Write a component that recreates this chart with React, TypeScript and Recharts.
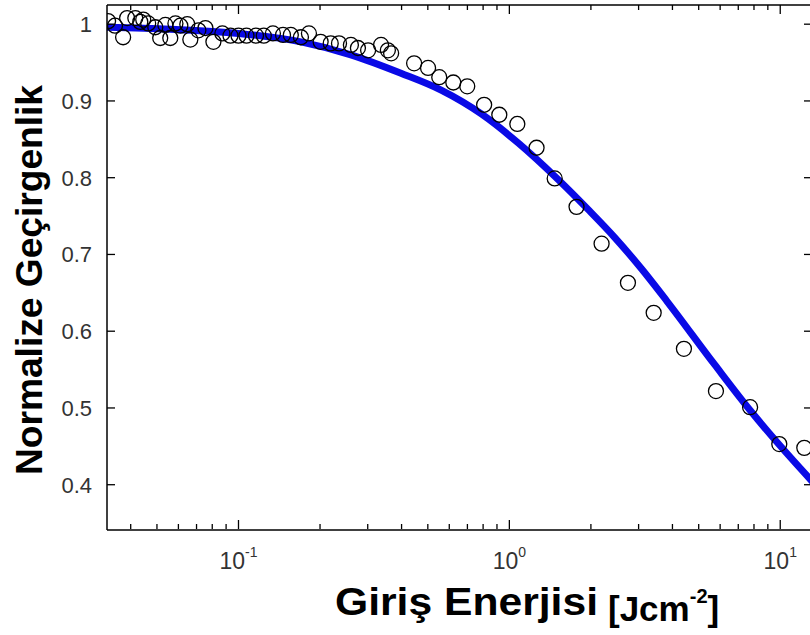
import { ComposedChart, Line, Scatter, XAxis, YAxis } from "recharts"

// measured points (input energy, normalized transmittance)
const energy = [
  0.033, 0.035, 0.0375, 0.0388, 0.0416, 0.0434, 0.0445, 0.0464, 0.0493, 0.0514, 0.0537, 0.056, 0.0585, 0.061,
  0.0647, 0.0664, 0.0711, 0.0755, 0.0808, 0.0872, 0.0934, 0.1, 0.107, 0.116, 0.124, 0.134, 0.146, 0.156, 0.17,
  0.182, 0.201, 0.219, 0.235, 0.26, 0.276, 0.301, 0.336, 0.356, 0.366, 0.445, 0.501, 0.551, 0.621, 0.699, 0.807,
  0.918, 1.07, 1.26, 1.47, 1.77, 2.19, 2.74, 3.41, 4.41, 5.79, 7.74, 9.92, 12.27,
]
const transmission = [
  1.004, 0.998, 0.983, 1.008, 1.008, 1.003, 1.006, 1.001, 0.996, 0.982, 0.999, 0.982, 1.001, 0.998,
  1.0, 0.98, 0.992, 0.995, 0.977, 0.988, 0.985, 0.985, 0.985, 0.985, 0.985, 0.988, 0.986, 0.986, 0.983,
  0.988, 0.977, 0.975, 0.975, 0.973, 0.969, 0.966, 0.973, 0.966, 0.962, 0.949, 0.943, 0.931, 0.924, 0.919, 0.895,
  0.882, 0.87, 0.839, 0.799, 0.762, 0.714, 0.663, 0.624, 0.577, 0.522, 0.501, 0.453, 0.448,
]

// fitted curve
const fitEnergy = [0.0327, 0.056, 0.1, 0.17, 0.26, 0.398, 0.56, 0.788, 1.08, 1.52, 1.96, 2.45, 3.08, 3.82, 5.74, 7.74, 9.92, 13.14]
const fitTransmission = [0.996, 0.9935, 0.988, 0.977, 0.96, 0.936, 0.914, 0.883, 0.845, 0.797, 0.758, 0.722, 0.681, 0.639, 0.556, 0.497, 0.452, 0.404]

const majorTicks = [0.1, 1, 10]
const xTicks = [0.04, 0.05, 0.06, 0.07, 0.08, 0.09, 0.1, 0.2, 0.3, 0.4, 0.5, 0.6, 0.7, 0.8, 0.9, 1, 2, 3, 4, 5, 6, 7, 8, 9, 10]
const yTicks = [0.4, 0.5, 0.6, 0.7, 0.8, 0.9, 1]

const points = energy.map((x, i) => ({ x, y: transmission[i] }))
const fit = fitEnergy.map((x, i) => ({ x, y: fitTransmission[i] }))

const FONT = "'Liberation Sans', Arial, sans-serif"
const isMajor = (v: number) => majorTicks.some((m) => Math.abs(m - v) < 1e-9)

const BottomTick = ({ x, y, payload }: any) => {
  const major = isMajor(payload.value)
  return (
    <g>
      <line x1={x} x2={x} y1={y - 1} y2={y - 1 - (major ? 9 : 5)} stroke="#000" strokeWidth={1.3} />
      {major && (
        <text x={x} y={y + 39} textAnchor="middle" fontFamily={FONT} fontSize={23} fill="#333">
          10
          <tspan dy={-12} fontSize={14}>
            {Math.round(Math.log10(payload.value))}
          </tspan>
        </text>
      )}
    </g>
  )
}

const TopTick = ({ x, payload }: any) => {
  const major = isMajor(payload.value)
  return <line x1={x} x2={x} y1={5} y2={5 + (major ? 9 : 5)} stroke="#000" strokeWidth={1.3} />
}

const LeftTick = ({ y, payload }: any) => (
  <g>
    <line x1={107} x2={115} y1={y} y2={y} stroke="#000" strokeWidth={1.3} />
    <text x={92} y={y} dy={8} textAnchor="end" fontFamily={FONT} fontSize={22} fill="#333">
      {payload.value}
    </text>
  </g>
)

const RightTick = ({ y }: any) => <line x1={812} x2={804} y1={y} y2={y} stroke="#000" strokeWidth={1.3} />

const XLabel = () => (
  <g fontFamily={FONT} fontWeight="bold" fill="#000">
    <text x={335} y={615} fontSize={38} textLength={263} lengthAdjust="spacingAndGlyphs">
      Giriş Enerjisi
    </text>
    <text x={608} y={621} fontSize={35}>
      [Jcm
      <tspan dy={-18} fontSize={20}>
        -2
      </tspan>
      <tspan dy={18} fontSize={35}>
        ]
      </tspan>
    </text>
  </g>
)

const YLabel = () => (
  <text
    x={42}
    y={475}
    transform="rotate(-90 42 475)"
    fontFamily={FONT}
    fontWeight="bold"
    fontSize={37}
    textLength={390}
    lengthAdjust="spacingAndGlyphs"
    fill="#000"
  >
    Normalize Geçirgenlik
  </text>
)

export default function App() {
  return (
    <div style={{ position: "absolute", left: 0, top: 0, background: "#fff" }}>
      <ComposedChart width={830} height={635} margin={{ top: 4, right: 17, bottom: 104, left: 106 }}>
        <XAxis
          dataKey="x"
          type="number"
          scale="log"
          domain={[0.0327, 13.1]}
          allowDataOverflow
          ticks={xTicks}
          interval={0}
          height={1}
          tickSize={0}
          tickMargin={0}
          axisLine={{ stroke: "#000", strokeWidth: 1.5 }}
          tickLine={false}
          tick={<BottomTick />}
          label={{ content: () => <XLabel /> }}
        />
        <XAxis
          xAxisId="top"
          orientation="top"
          dataKey="x"
          type="number"
          scale="log"
          domain={[0.0327, 13.1]}
          allowDataOverflow
          ticks={xTicks}
          interval={0}
          height={1}
          tickSize={0}
          tickMargin={0}
          axisLine={{ stroke: "#000", strokeWidth: 1.5 }}
          tickLine={false}
          tick={<TopTick />}
        />
        <YAxis
          type="number"
          domain={[0.341, 1.025]}
          allowDataOverflow
          ticks={yTicks}
          interval={0}
          width={1}
          tickSize={0}
          tickMargin={0}
          axisLine={{ stroke: "#000", strokeWidth: 1.5 }}
          tickLine={false}
          tick={<LeftTick />}
          label={{ content: () => <YLabel /> }}
        />
        <YAxis
          yAxisId="right"
          orientation="right"
          type="number"
          domain={[0.341, 1.025]}
          allowDataOverflow
          ticks={yTicks}
          interval={0}
          width={1}
          tickSize={0}
          tickMargin={0}
          axisLine={{ stroke: "#000", strokeWidth: 1.5 }}
          tickLine={false}
          tick={<RightTick />}
        />
        <Scatter
          data={points}
          dataKey="y"
          isAnimationActive={false}
          shape={(p: any) => <circle cx={p.cx} cy={p.cy} r={7.5} fill="none" stroke="#000" strokeWidth={1.3} />}
        />
        <Line
          data={fit}
          dataKey="y"
          type="monotone"
          stroke="#0a0ae6"
          strokeWidth={7}
          dot={false}
          activeDot={false}
          isAnimationActive={false}
        />
      </ComposedChart>
    </div>
  )
}
